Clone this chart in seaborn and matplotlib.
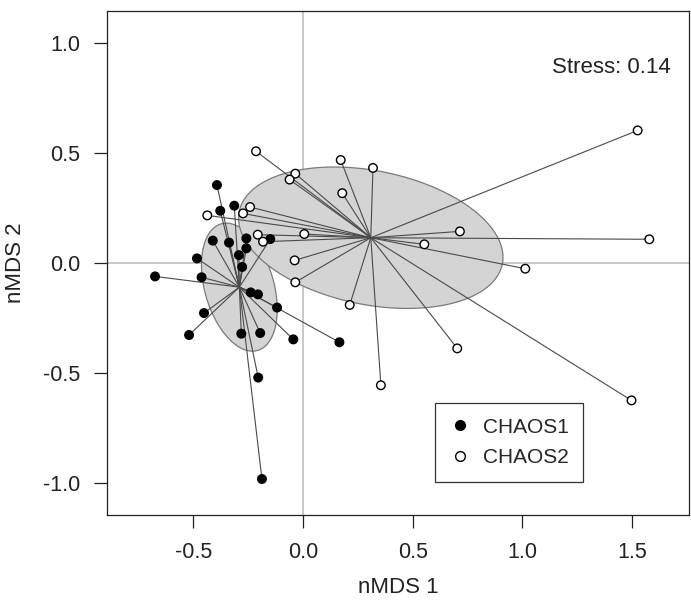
import numpy as np
import pandas as pd
import matplotlib
matplotlib.use("Agg")
import matplotlib.pyplot as plt
from matplotlib.lines import Line2D
import seaborn as sns

# nMDS site scores, group CHAOS1
chaos1_x = [-0.392, -0.313, -0.377, -0.411, -0.337, -0.258, -0.149, -0.258,
            -0.292, -0.277, -0.483, -0.674, -0.462, -0.238, -0.205, -0.118,
            -0.451, -0.519, -0.281, -0.195, -0.044, -0.204, 0.166, -0.187]
chaos1_y = [0.355, 0.261, 0.238, 0.102, 0.093, 0.112, 0.109, 0.067,
            0.036, -0.018, 0.021, -0.061, -0.065, -0.134, -0.143, -0.203,
            -0.228, -0.328, -0.322, -0.319, -0.348, -0.522, -0.361, -0.984]

# nMDS site scores, group CHAOS2
chaos2_x = [-0.214, -0.035, -0.061, 0.172, 0.319, 0.179, -0.241, -0.273,
            -0.436, -0.206, -0.182, 0.006, -0.038, -0.035, 0.213, 0.553,
            1.525, 0.715, 1.578, 1.013, 0.703, 0.355, 1.497]
chaos2_y = [0.509, 0.407, 0.380, 0.469, 0.433, 0.318, 0.255, 0.226,
            0.217, 0.129, 0.097, 0.132, 0.012, -0.088, -0.191, 0.085,
            0.604, 0.144, 0.108, -0.026, -0.389, -0.557, -0.626]

groups = ["CHAOS1", "CHAOS2"]
stress = 0.14
x_ticks = [-0.5, 0.0, 0.5, 1.0, 1.5]
y_ticks = [-1.0, -0.5, 0.0, 0.5, 1.0]

df = pd.DataFrame({
    "nMDS1": chaos1_x + chaos2_x,
    "nMDS2": chaos1_y + chaos2_y,
    "group": [groups[0]] * len(chaos1_x) + [groups[1]] * len(chaos2_x),
})

sns.set_style("ticks")
plt.rcParams["font.family"] = ["Liberation Sans", "DejaVu Sans"]

fig = plt.figure(figsize=(6.91, 6.01), dpi=100)
W, H = 691, 601
ax = fig.add_axes([107 / W, (H - 515) / H, 582 / W, 504 / H])

ax.set_xlim(-0.893, 1.759)
ax.set_ylim(-1.148, 1.148)

# reference lines through the origin
ax.axhline(0, color="#b8b8b8", lw=1.1, zorder=0)
ax.axvline(0, color="#b8b8b8", lw=1.1, zorder=0)

# one-standard-deviation ellipse and spider for each group
t = np.linspace(0, 2 * np.pi, 200)
circle = np.vstack([np.cos(t), np.sin(t)])
for g in groups:
    sub = df[df["group"] == g]
    pts = sub[["nMDS1", "nMDS2"]].to_numpy()
    c = pts.mean(axis=0)
    cov = np.cov(pts.T)
    L = np.linalg.cholesky(cov)
    ell = (L @ circle).T + c
    ax.fill(ell[:, 0], ell[:, 1], facecolor="#d4d4d4", edgecolor="#7a7a7a",
            lw=0.9, zorder=1)
    for px, py in pts:
        ax.plot([c[0], px], [c[1], py], color="#4a4a4a", lw=0.8, zorder=2)

sns.scatterplot(data=df, x="nMDS1", y="nMDS2", hue="group",
                palette={"CHAOS1": "black", "CHAOS2": "white"},
                edgecolor="black", linewidth=1.0, s=38, legend=False,
                ax=ax, zorder=3)

ax.set_xticks(x_ticks)
ax.set_xticklabels([f"{v:.1f}" for v in x_ticks])
ax.set_yticks(y_ticks)
ax.set_yticklabels([f"{v:.1f}" for v in y_ticks])
ax.tick_params(axis="both", length=9.5, width=0.9, color="#222222",
               labelsize=15.5, labelcolor="#222222", direction="out")
ax.tick_params(axis="x", pad=10)
ax.tick_params(axis="y", pad=10)
for sp in ax.spines.values():
    sp.set_visible(True)
    sp.set_linewidth(0.9)
    sp.set_color("#222222")

ax.set_xlabel("nMDS 1", fontsize=16, color="#222222", labelpad=10)
ax.set_ylabel("nMDS 2", fontsize=16, color="#222222", labelpad=12)

ax.text(0.969, 0.887, f"Stress: {stress:.2f}", transform=ax.transAxes,
        ha="right", va="center", fontsize=16, color="#222222")

handles = [
    Line2D([], [], marker="o", linestyle="none", markerfacecolor="black",
           markeredgecolor="black", markersize=7, label=groups[0]),
    Line2D([], [], marker="o", linestyle="none", markerfacecolor="white",
           markeredgecolor="black", markeredgewidth=1.0, markersize=7,
           label=groups[1]),
]
leg = ax.legend(handles=handles, loc="lower left",
                bbox_to_anchor=(0.5636, 0.066), borderaxespad=0,
                fancybox=False, framealpha=1, edgecolor="#333333",
                fontsize=15, handlelength=1.0, handletextpad=0.6,
                borderpad=0.7, labelspacing=0.55)
leg.get_frame().set_linewidth(0.9)

fig.savefig("out.png", dpi=100)
